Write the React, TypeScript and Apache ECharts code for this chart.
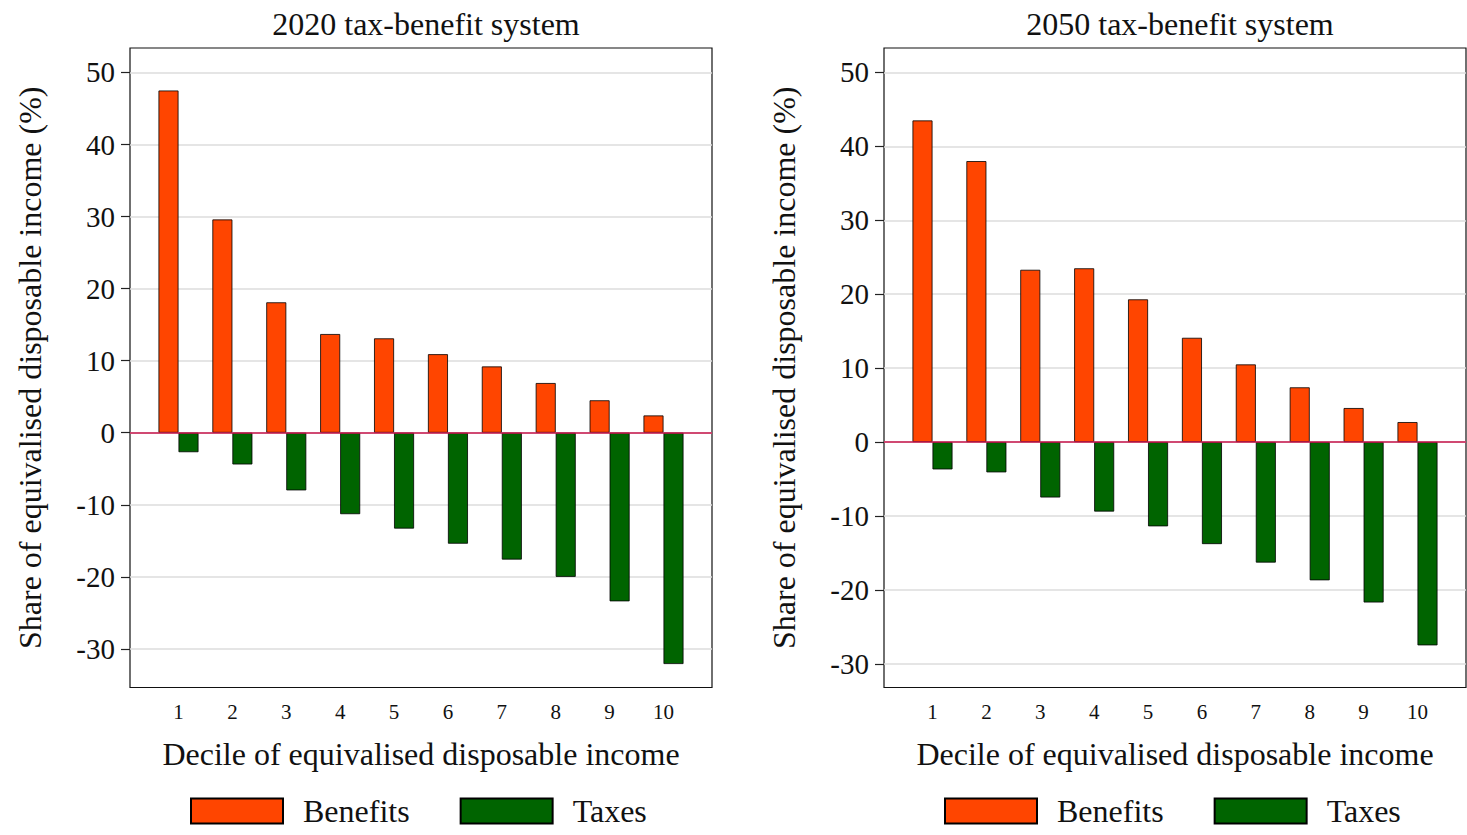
import React, { useEffect, useRef } from 'react';
import * as echarts from 'echarts';

// Deciles of equivalised disposable income
const deciles = [1, 2, 3, 4, 5, 6, 7, 8, 9, 10];

// Share of equivalised disposable income (%), 2020 system
const benefits2020 = [47.5, 29.6, 18.1, 13.7, 13.1, 10.9, 9.2, 6.9, 4.5, 2.4];
const taxes2020 = [-2.7, -4.4, -8.0, -11.3, -13.3, -15.4, -17.6, -20.0, -23.4, -32.1];

// 2050 system
const benefits2050 = [43.5, 38.0, 23.3, 23.5, 19.3, 14.1, 10.5, 7.4, 4.6, 2.7];
const taxes2050 = [-3.7, -4.1, -7.5, -9.4, -11.4, -13.8, -16.3, -18.7, -21.7, -27.5];

const yTicks = [-30, -20, -10, 0, 10, 20, 30, 40, 50];

const FONT = 'Liberation Serif';
const BENEFIT_COLOR = '#ff4500';
const TAX_COLOR = '#006400';

const panels = [
  { title: '2020 tax-benefit system', left: 130, min: -35.36, max: 53.4, benefits: benefits2020, taxes: taxes2020 },
  { title: '2050 tax-benefit system', left: 884, min: -33.2, max: 53.3, benefits: benefits2050, taxes: taxes2050 },
];

const PLOT_W = 582;

export default function App() {
  const chartRef = useRef<HTMLDivElement>(null);

  useEffect(() => {
    if (!chartRef.current) return;
    const chart = echarts.init(chartRef.current, null, { renderer: 'svg' });

    const option: echarts.EChartsOption = {
      animation: false,
      backgroundColor: '#fff',
      textStyle: { fontFamily: FONT, color: '#111' },
      title: panels.map(p => ({
        text: p.title,
        left: p.left + PLOT_W / 2,
        textAlign: 'center',
        top: 3,
        textStyle: { fontFamily: FONT, fontSize: 32, fontWeight: 'normal', color: '#111' },
      })),
      legend: panels.map(p => ({
        data: ['Benefits', 'Taxes'],
        icon: 'rect',
        left: p.left + 55,
        top: 790,
        itemWidth: 92,
        itemHeight: 25,
        itemGap: 50,
        selectedMode: false,
        textStyle: { fontFamily: FONT, fontSize: 32, color: '#111', padding: [0, 0, 0, 15] },
      })),
      grid: panels.map(p => ({
        left: p.left,
        top: 48,
        width: PLOT_W,
        height: 639.5,
        show: true,
        borderColor: '#111',
        borderWidth: 1.2,
        backgroundColor: 'transparent',
        containLabel: false,
      })),
      xAxis: panels.map((p, i) => ({
        type: 'value',
        gridIndex: i,
        min: 0.1,
        max: 10.9,
        name: 'Decile of equivalised disposable income',
        nameLocation: 'middle',
        nameGap: 50,
        nameTextStyle: { fontFamily: FONT, fontSize: 32, color: '#111' },
        axisLine: { show: false },
        axisTick: { show: false },
        splitLine: { show: false },
        axisLabel: {
          customValues: deciles,
          fontFamily: FONT,
          fontSize: 21,
          color: '#111',
          margin: 14,
        },
      })),
      yAxis: panels.map((p, i) => ({
        type: 'value',
        gridIndex: i,
        min: p.min,
        max: p.max,
        name: 'Share of equivalised disposable income (%)',
        nameLocation: 'middle',
        nameGap: 84,
        nameTextStyle: { fontFamily: FONT, fontSize: 32, color: '#111' },
        axisLine: { show: false },
        axisTick: { show: true, length: 9, customValues: yTicks, lineStyle: { color: '#222', width: 1.2 } },
        axisLabel: {
          customValues: yTicks,
          fontFamily: FONT,
          fontSize: 29,
          color: '#111',
          margin: 15,
        },
        splitLine: { show: true, lineStyle: { color: '#dddddd', width: 1.5 } },
      })),
      series: panels.flatMap((p, i) => [
        {
          name: 'Benefits',
          type: 'bar',
          xAxisIndex: i,
          yAxisIndex: i,
          barWidth: 20,
          barGap: '0%',
          data: deciles.map((d, k) => [d, p.benefits[k]]),
          itemStyle: { color: BENEFIT_COLOR, borderColor: '#000', borderWidth: 0.8 },
          markLine: {
            silent: true,
            symbol: ['none', 'none'],
            label: { show: false },
            lineStyle: { color: '#c8154b', type: 'solid', width: 1.6 },
            data: [{ yAxis: 0 }],
            z: 10,
          },
        },
        {
          name: 'Taxes',
          type: 'bar',
          xAxisIndex: i,
          yAxisIndex: i,
          barWidth: 20,
          barGap: '0%',
          data: deciles.map((d, k) => [d, p.taxes[k]]),
          itemStyle: { color: TAX_COLOR, borderColor: '#000', borderWidth: 0.8 },
        },
      ]),
    };

    chart.setOption(option);
    return () => {
      chart.dispose();
    };
  }, []);

  return (
    <div
      ref={chartRef}
      style={{ position: 'absolute', left: 0, top: 0, width: 1467, height: 835 }}
    />
  );
}
